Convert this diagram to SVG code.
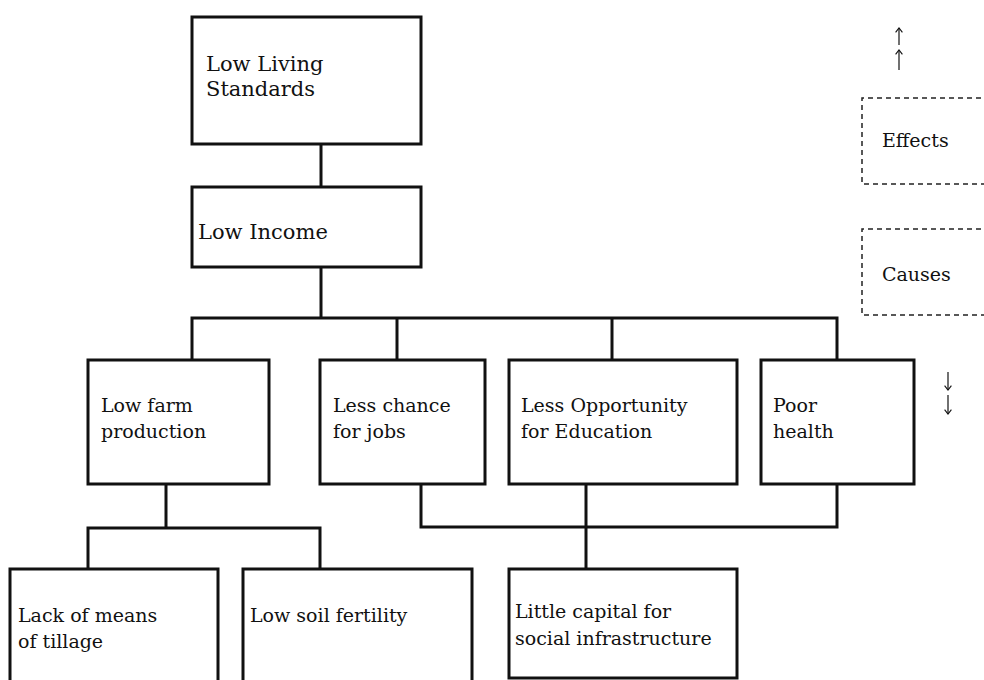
<svg xmlns="http://www.w3.org/2000/svg" width="984" height="680" viewBox="0 0 984 680">
  <defs>
    <marker id="tip" viewBox="0 0 8 8" refX="7.4" refY="4" markerWidth="8" markerHeight="8" markerUnits="userSpaceOnUse" orient="auto">
      <path d="M3 0.6 L7.4 4 L3 7.4" fill="none" stroke="#111" stroke-width="1.1"/>
    </marker>
  </defs>
  <style>
    .box { fill: #fff; stroke: #111; stroke-width: 3; }
    .key { fill: none; stroke: #222; stroke-width: 1.5; stroke-dasharray: 5 4; }
    .wire { fill: none; stroke: #111; stroke-width: 3; stroke-linejoin: miter; }
    .dir { fill: none; stroke: #111; stroke-width: 1.2; }
    text { font-family: "DejaVu Serif", "Liberation Serif", serif; font-size: 19px; fill: #111; }
    .big { font-size: 21px; }
  </style>
  <rect width="984" height="680" fill="#fff"/>

  <!-- connectors -->
  <g id="connectors">
    <path class="wire" d="M321 144 V187"/>
    <path class="wire" d="M321 267 V318"/>
    <path class="wire" d="M192 360 V318 H837 V360"/>
    <path class="wire" d="M397 318 V360"/>
    <path class="wire" d="M612 318 V360"/>
    <path class="wire" d="M166 484 V528"/>
    <path class="wire" d="M88 569 V528 H320 V569"/>
    <path class="wire" d="M421 484 V527 H837 V484"/>
    <path class="wire" d="M586 484 V569"/>
  </g>

  <g id="n-living">
    <rect class="box" x="192" y="17" width="229" height="127"/>
    <text class="big" x="206" y="71">Low Living</text>
    <text class="big" x="206" y="96">Standards</text>
  </g>
  <g id="n-income">
    <rect class="box" x="192" y="187" width="229" height="80"/>
    <text class="big" x="198" y="239">Low Income</text>
  </g>

  <g id="n-farm">
    <rect class="box" x="88" y="360" width="181" height="124"/>
    <text x="101" y="412">Low farm</text>
    <text x="101" y="438">production</text>
  </g>
  <g id="n-jobs">
    <rect class="box" x="320" y="360" width="165" height="124"/>
    <text x="333" y="412">Less chance</text>
    <text x="333" y="438">for jobs</text>
  </g>
  <g id="n-education">
    <rect class="box" x="509" y="360" width="228" height="124"/>
    <text x="521" y="412">Less Opportunity</text>
    <text x="521" y="438">for Education</text>
  </g>
  <g id="n-health">
    <rect class="box" x="761" y="360" width="153" height="124"/>
    <text x="773" y="412">Poor</text>
    <text x="773" y="438">health</text>
  </g>

  <g id="n-tillage">
    <rect class="box" x="10" y="569" width="208" height="115"/>
    <text x="18" y="622">Lack of means</text>
    <text x="18" y="648">of tillage</text>
  </g>
  <g id="n-soil">
    <rect class="box" x="243" y="569" width="229" height="115"/>
    <text x="250" y="622">Low soil fertility</text>
  </g>
  <g id="n-capital">
    <rect class="box" x="509" y="569" width="228" height="109"/>
    <text x="515" y="618">Little capital for</text>
    <text x="515" y="645">social infrastructure</text>
  </g>

  <!-- key: upward arrows for effects, downward arrows for causes -->
  <g id="key-effects">
    <path class="dir" d="M899 45 V28" marker-end="url(#tip)"/>
    <path class="dir" d="M899 70 V50" marker-end="url(#tip)"/>
    <path class="key" d="M990 98 H862 V184 H990"/>
    <text x="882" y="147">Effects</text>
  </g>
  <g id="key-causes">
    <path class="key" d="M990 229 H862 V315 H990"/>
    <text x="882" y="281">Causes</text>
    <path class="dir" d="M948 372 V390" marker-end="url(#tip)"/>
    <path class="dir" d="M948 395 V414" marker-end="url(#tip)"/>
  </g>
</svg>
